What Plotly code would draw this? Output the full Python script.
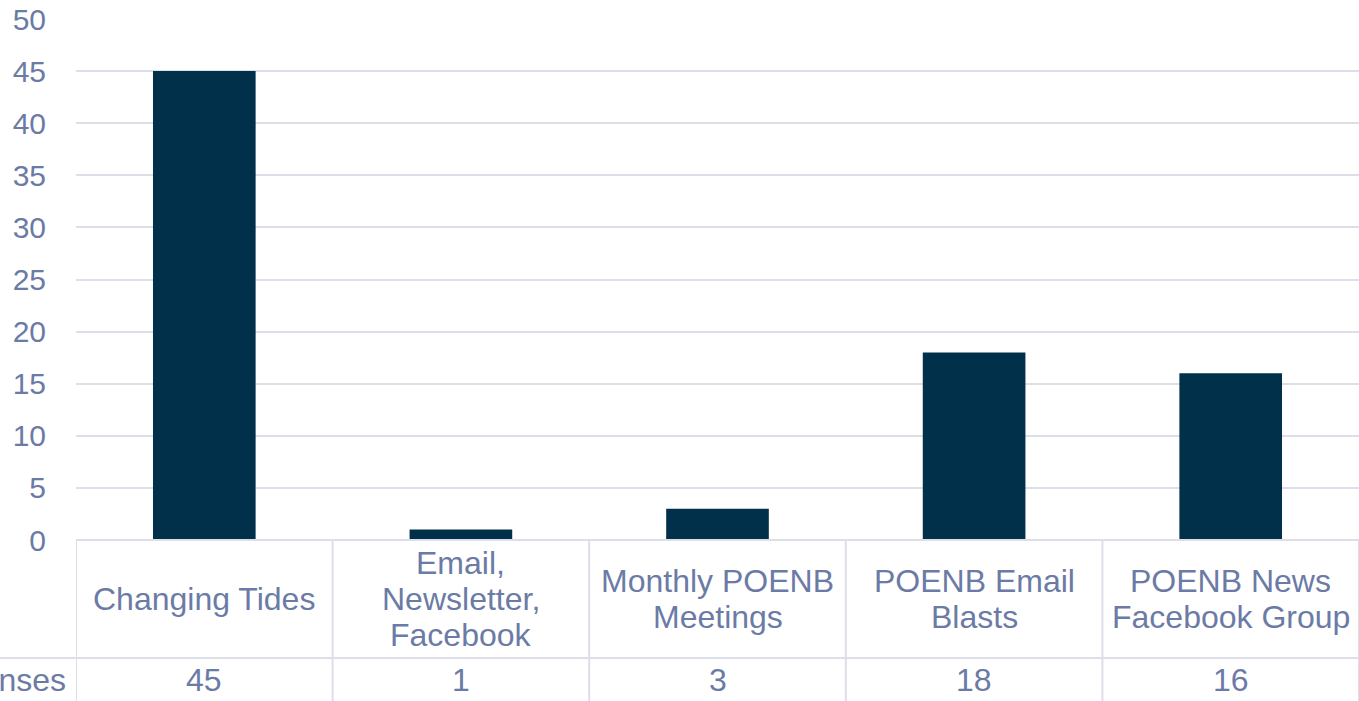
import plotly.graph_objects as go

categories = [
    "Changing Tides",
    "Email,<br>Newsletter,<br>Facebook",
    "Monthly POENB<br>Meetings",
    "POENB Email<br>Blasts",
    "POENB News<br>Facebook Group",
]
responses = [45, 1, 3, 18, 16]
row_label = "Responses"
y_ticks = [0, 5, 10, 15, 20, 25, 30, 35, 40, 45, 50]

BAR = "#00304A"
TEXT = "#6B7BA6"
GRID = "#DDDFE8"
FONT = "Liberation Sans, Arial, sans-serif"

W, H = 1359, 701
M_L, M_R, M_T, M_B = 76, 0, 19, 161
plot_h = H - M_T - M_B
plot_w = W - M_L - M_R

# table geometry in pixels below the x axis
LABEL_ROW = 118
LINE_STEP = 36
TABLE_FONT = 32

x_idx = list(range(len(categories)))

fig = go.Figure()
fig.add_trace(go.Bar(
    x=x_idx, y=responses,
    marker=dict(color=BAR, line=dict(width=0)),
    width=0.4,
    hoverinfo="x+y",
))

shapes = []
annotations = []

row_y = -LABEL_ROW / plot_h
bottom_y = -(M_B + 10) / plot_h

# vertical cell borders
for b in [i - 0.5 for i in range(len(categories) + 1)]:
    shapes.append(dict(type="line", xref="x", yref="paper",
                       x0=b, x1=b, y0=0, y1=bottom_y,
                       line=dict(color=GRID, width=2)))
# top line of table
shapes.append(dict(type="line", xref="paper", yref="paper",
                   x0=0, x1=1, y0=0, y1=0,
                   line=dict(color=GRID, width=2)))
# divider between label row and values row
shapes.append(dict(type="line", xref="paper", yref="paper",
                   x0=-M_L / plot_w, x1=1, y0=row_y, y1=row_y,
                   line=dict(color=GRID, width=2)))

for i, (cat, val) in enumerate(zip(categories, responses)):
    lines = cat.split("<br>")
    center = -LABEL_ROW / 2
    first = center + (len(lines) - 1) * LINE_STEP / 2
    for j, ln in enumerate(lines):
        annotations.append(dict(
            xref="x", yref="paper", x=i, y=0,
            yanchor="middle", xanchor="center",
            yshift=first - j * LINE_STEP,
            text=ln, showarrow=False,
            font=dict(size=TABLE_FONT, color=TEXT, family=FONT),
        ))
    annotations.append(dict(
        xref="x", yref="paper", x=i, y=0,
        yanchor="middle", xanchor="center",
        yshift=-(LABEL_ROW + 22),
        text=str(val), showarrow=False,
        font=dict(size=TABLE_FONT, color=TEXT, family=FONT),
    ))

# row header, cut off at the left edge like the original
annotations.append(dict(
    xref="paper", yref="paper", x=0, y=0,
    xanchor="right", yanchor="middle",
    xshift=-8, yshift=-(LABEL_ROW + 22),
    text=row_label, showarrow=False,
    font=dict(size=TABLE_FONT, color=TEXT, family=FONT),
))

fig.update_layout(
    width=W, height=H,
    margin=dict(l=M_L, r=M_R, t=M_T, b=M_B, pad=0),
    plot_bgcolor="white",
    paper_bgcolor="white",
    showlegend=False,
    shapes=shapes,
    annotations=annotations,
    xaxis=dict(
        range=[-0.5, len(categories) - 0.5],
        showticklabels=False, showgrid=False, zeroline=False,
        fixedrange=True,
    ),
    yaxis=dict(
        range=[0, 50], tickvals=y_ticks,
        showgrid=True, gridcolor=GRID, gridwidth=2,
        zeroline=False, showline=False,
        ticks="", ticklabelstandoff=29,
        tickfont=dict(size=30, color=TEXT, family=FONT),
        fixedrange=True,
    ),
)

# drop the default body margin so the figure sits at the window's corner
fig.write_html(
    "out.html",
    config={"displayModeBar": False},
    post_script="document.body.style.margin='0';document.body.style.overflow='hidden';",
)
